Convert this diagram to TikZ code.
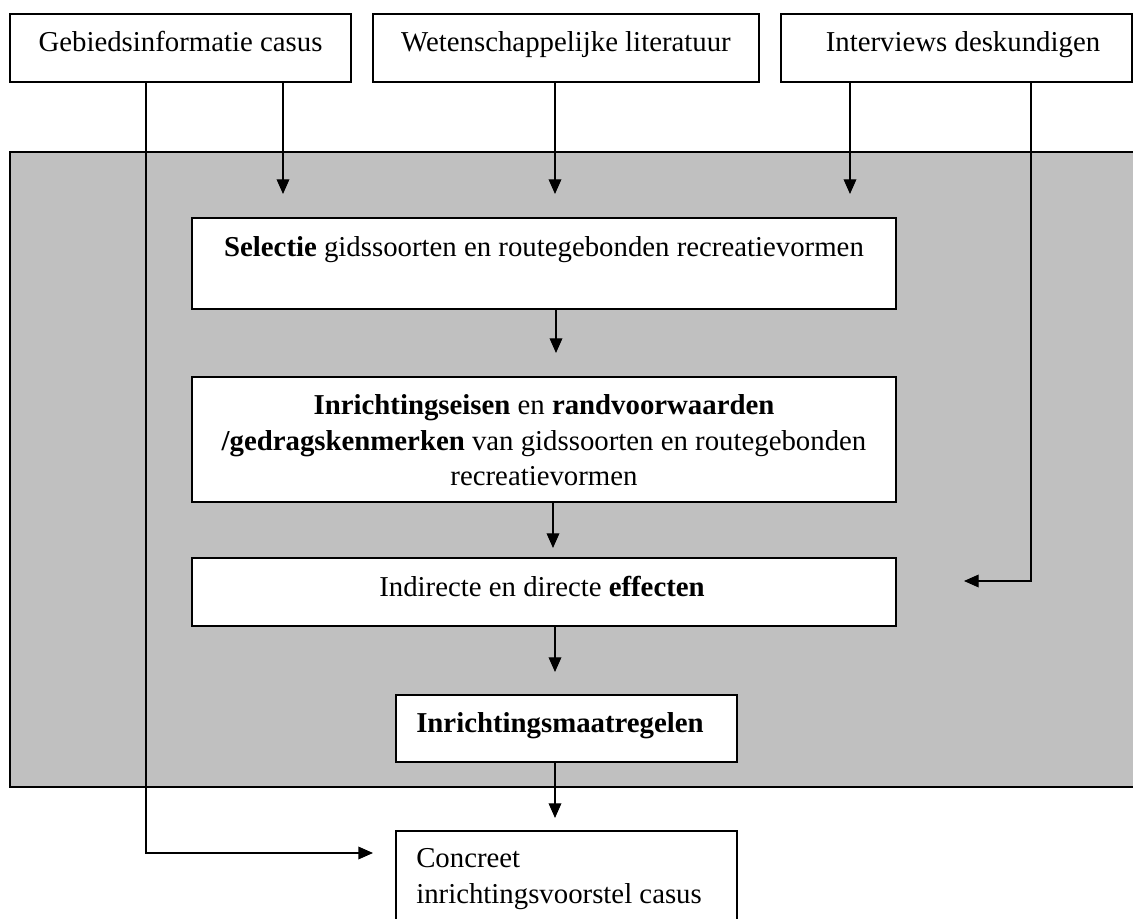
\documentclass[tikz,border=0pt]{standalone}
\usepackage{fontspec}
\setmainfont{Liberation Serif}
\usetikzlibrary{arrows.meta,fit}
\definecolor{panelgray}{RGB}{192,192,192}
\begin{document}
\begin{tikzpicture}[x=0.75pt,y=-0.75pt,
  box/.style={draw=black, line width=1.3pt, fill=white, inner sep=0pt},
  panelbox/.style={draw=black, line width=1.5pt, fill=panelgray, inner sep=0pt},
  lbl/.style={font=\fontsize{21.6}{27}\selectfont, inner sep=0pt, anchor=base},
  lblw/.style={lbl, anchor=base west},
  conn/.style={line width=1pt, -{Triangle[length=11pt,width=9.5pt]}}]
\useasboundingbox (0,0) rectangle (1133,919);
% panel
\node[panelbox, fit={(10,152) (1145,787)}] (panel) {};
% top boxes
\node[box, fit={(10,14) (351,82)}] (g) {};
\node[box, fit={(373,14) (759,82)}] (w) {};
\node[box, fit={(781,14) (1132,82)}] (iv) {};
% helper coordinates
\coordinate (xa) at (146,0);
\coordinate (xc) at (1031,0);
\coordinate (ta) at (283,194);
\coordinate (tb) at (555,194);
\coordinate (tc) at (850,194);
\coordinate (tEff) at (964,581);
\coordinate (tCon) at (373,853);
\coordinate (t1) at (556,353);
\coordinate (t2) at (553,548);
\coordinate (t3) at (555,672);
\coordinate (t4) at (555,818);
% inner boxes
\node[box, fit={(192,218) (896,309)}] (sel) {};
\node[box, fit={(192,377) (896,502)}] (req) {};
\node[box, fit={(192,558) (896,626)}] (eff) {};
\node[box, fit={(396,695) (737,762)}] (mat) {};
\node[box, fit={(396,831) (737,935)}] (con) {};
% connectors
\draw[conn] (g.south -| xa) |- (tCon);
\draw[conn] (g.south -| ta) -- (ta);
\draw[conn] (w.south -| tb) -- (tb);
\draw[conn] (iv.south -| tc) -- (tc);
\draw[conn] (iv.south -| xc) |- (tEff);
\draw[conn] (sel.south -| t1) -- (t1);
\draw[conn] (req.south -| t2) -- (t2);
\draw[conn] (eff.south -| t3) -- (t3);
\draw[conn] (mat.south -| t4) -- (t4);
% labels
\node[lbl] (tg) at (180.5,52) {Gebiedsinformatie casus};
\node[lbl] (tw) at (566,52) {Wetenschappelijke literatuur};
\node[lbl] (ti) at (963,52) {Interviews deskundigen};
\node[lbl] (ts) at (544,257) {\textbf{Selectie} gidssoorten en routegebonden recreatievormen};
\node[lbl] (tr1) at (544,415) {\textbf{Inrichtingseisen} en \textbf{randvoorwaarden}};
\node[lbl] (tr2) at (544,451) {\textbf{/gedragskenmerken} van gidssoorten en routegebonden};
\node[lbl] (tr3) at (544,486) {recreatievormen};
\node[lbl] (te) at (542,597) {Indirecte en directe \textbf{effecten}};
\node[lblw] (tm) at (416,733) {\textbf{Inrichtingsmaatregelen}};
\node[lblw] (tc1) at (416,868) {Concreet};
\node[lblw] (tc2) at (416,903) {inrichtingsvoorstel casus};
\end{tikzpicture}
\end{document}
